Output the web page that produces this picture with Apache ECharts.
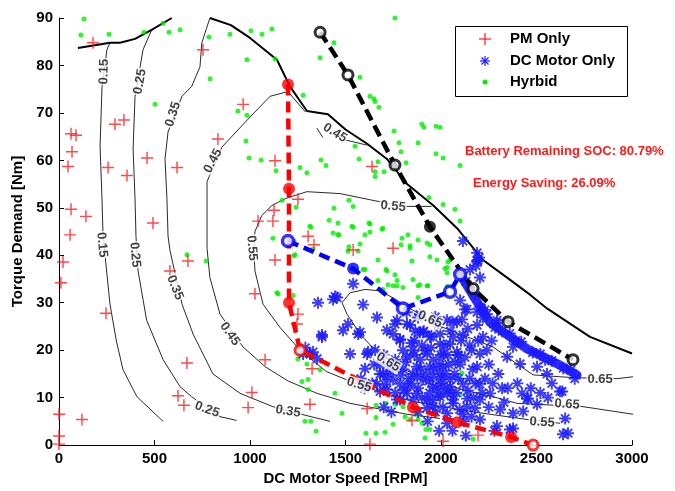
<!DOCTYPE html>
<html>
<head>
<meta charset="utf-8">
<script src="https://cdn.jsdelivr.net/npm/echarts@6/dist/echarts.min.js"></script>
<style>
  html, body { margin: 0; padding: 0; background: #fff; }
  #chart { width: 675px; height: 491px; }
</style>
</head>
<body>
<div id="chart"></div>
<script>
// ---- Axis ticks ----
const speedTicks = [0, 500, 1000, 1500, 2000, 2500, 3000];
const torqueTicks = [0, 10, 20, 30, 40, 50, 60, 70, 80, 90];

// ---- Maximum torque envelope (two pieces) ----
const maxTorqueLow = [[99,83.7],[267,84.8],[319,84.8],[398,85.6],[485,87.5],[590,90]];
const maxTorqueHigh = [[790,90],[900,88.5],[1000,85.8],[1141,81.2],[1209,75.6],[1298,70.4],[1408,69.7],
  [1500,66.5],[1613,63.5],[1717,60.3],[1822,55],[1960,50.5],[2084,45.7],[2220,39],[2346,35.3],
  [2466,31.7],[2555,28.8],[2780,22.8],[3000,19.3]];

// ---- Efficiency contours ----
const eff015 = [[267,84.8],[251,83.3],[225,75.4],[215,63],[225,52],[230,45],[246,38],[267,29.7],[300,22],[335,15.9],[408,10.2],[545,5]];
const eff025 = [[485,87.5],[440,83.3],[398,73.5],[388,62.4],[398,52],[403,44],[414,36.7],[459,26.3],[545,18],[634,12.3],[694,10.2],[843,6],[930,5.2]];
const eff035 = [[790,90],[748,84.8],[738,79.7],[695,75.6],[644,73.5],[571,66],[555,60.3],[565,52],[571,44],[581,41],[644,29.7],[702,23.4],[806,15],[948,10.9],[1120,8.1],[1288,6.3],[1419,5]];
const eff045 = [[1290,70.2],[1199,74.5],[1105,73.5],[990,68.7],[853,62.8],[775,55.5],[775,41.5],[790,35.3],[843,27.6],[963,20.7],[1080,16.5],[1200,13.5],[1351,10.9],[1524,8.8],[1822,6.5],[1995,5.6]];
const eff045Piece = [[1350,66.8],[1382,64.8]];
const eff045Tail = [[1500,64.3],[1613,63.2]];
const eff055 = [[1950,50.3],[1822,50.3],[1665,51.4],[1471,53],[1298,53.4],[1188,52],[1115,50.5],[1062,48.4],[1026,45],[1020,41],[1026,36.7],[1068,29.7],[1157,24.8],[1262,20],[1400,15.5],[1571,12.7],[1700,11],[1853,9.2],[2152,7.1],[2450,5.4],[2623,4.6]];
const eff065 = [[3005,14.4],[2922,14],[2700,14.2],[2623,14.4],[2482,14.8],[2398,17.1],[2272,20.7],[2100,23.4],[2011,24.8],[1850,28.5],[1750,31],[1680,32.5],[1602,32.8],[1524,32.1],[1482,30],[1508,27.6],[1576,23.4],[1639,20.7],[1801,16],[1958,13.4],[2152,11.3],[2272,10.2],[2398,8.8],[2744,8.1],[3005,6.5]];

// Contour labels [speed, torque, text] and their text angles
const contourLabels = [
  [236,78.7,'0.15'],[225,42.2,'0.15'],
  [424,76.6,'0.25'],[398,40.1,'0.25'],[775,7.5,'0.25'],
  [597,69.7,'0.35'],[607,33.2,'0.35'],[1199,7.1,'0.35'],
  [806,59.9,'0.45'],[895,23.4,'0.45'],[1445,65.8,'0.45'],
  [1749,50.3,'0.55'],[1010,41.5,'0.55'],[1571,12.7,'0.55'],[2529,4.8,'0.55'],
  [1723,17.5,'0.65'],[1942,26.5,'0.65'],[2660,8.6,'0.65'],[2833,13.8,'0.65']
];
const labelAngles = [88,-85, 80,-85,-20, 72,-68,-10, 62,-55,-32, -5,-85,-16,-4, -32,-24,-4,0];

// ---- Operating points ----
const pmOnly = [[178,84.8],[754,83.3],[964,71.8],[340,68.5],[293,67.6],[63,65.6],[89,65.3],[832,64.5],[68,61.8],[47,58.7],
  [461,60.5],[257,58.5],[618,58.5],[356,56.8],[1131,59.9],[63,49.7],[141,48.2],[492,46.8],[58,44.3],[1251,51.8],
  [1126,49.5],[1042,47.2],[1120,47.2],[1304,44],[1335,42.2],[1639,58.7],[1749,41.5],[1540,41.1],[1131,39],[1026,31.9],
  [1251,27.6],[1246,25.5],[1079,18],[21,38.6],[10,34.2],[0,6.5],[0,1.9],[0,0.2],[120,5.4],[246,27.8],
  [581,36.7],[675,38.8],[670,17.3],[623,10.4],[654,8.4],[1010,11.1],[990,7.9],[1325,16.1],[1314,8.6],[1613,7.7],
  [1848,5.2],[1628,0.2],[2011,0.8],[2194,2.1]];

const hybrid = [[131,89.8],[115,86.4],[262,86.6],[445,87],[545,88.9],[576,87],[634,87.5],[785,86],[895,86.6],[1005,87.3],
  [1063,86.6],[1115,87.7],[984,81.2],[1131,81.4],[791,77.2],[503,71.8],[937,70.4],[984,69.5],[1278,73.7],[979,64.1],
  [995,60.5],[1058,60.1],[1136,57.8],[1262,58.5],[1298,57.4],[1372,60.1],[1398,58.9],[1367,81.6],[1440,84.8],[1168,51.6],
  [1241,50.1],[1440,49.9],[1414,47.4],[1435,44.7],[1319,45.9],[1120,43.6],[1230,43],
  [1759,90],[1576,77.5],[1628,73.5],[1649,73],[1655,72.4],[1675,71.2],[1900,67.6],[1911,67],[1974,67.2],[1995,67],
  [1754,66.2],[1780,63.7],[1880,63.7],[1550,63],[1791,61.8],[1974,61.4],[2011,60.5],[1571,60.3],[1670,59.7],[1817,59.5],
  [2100,58.9],[1655,57.6],[1702,57.6],[1655,56.6],[1937,52.2],[2011,50.7],[2073,49.7],[1885,50.1],[2100,47.2],[1518,51.6],
  [1540,50.3],[1540,45.9],[1628,46.6],[1696,45.7],[1461,44.3],[1602,44.3],[1796,43.6],[1827,44.3],[1880,43.2],[1576,42.4],
  [1838,42],[1942,42.2],[1230,39.9],[1330,41.3],[1314,46.1],[1461,46.8],[1466,44.3],[1534,46.1],[1518,41.8],[1513,40.9],
  [1566,40.9],[1623,46.8],[1691,45.5],[1628,44.9],[1838,41.5],[1670,39],[1848,38.8],[1712,37],[1759,35.9],[1853,34.9],
  [2021,37.2],[2032,36.3],[1979,39],[1723,33.8],[1770,33.6],[1890,33.8],[1602,37],[1696,32.8],[1880,31.1],[1225,31.5],
  [1147,31.9],[1791,42.2],[1942,39.7],[2037,38.6],[1717,36.7],[1770,34.7],[1749,33.6],[1801,33.2],[1880,33.6],[1932,33.6],
  [1670,34.7],[1592,37],[670,40.1],[770,38.8],[1236,40.1],[1141,32.1],[1251,18.2],[1298,17.1],[1367,15.9],[1272,13.4],
  [1304,13.8],[1304,11.7],[1445,10.9],[1288,5],[1319,5],[1346,2.9],[1482,6.7],[1607,2.5],[1660,8.4],[1712,8.8],
  [1759,8.6],[1801,8.1],[1812,6],[1749,4.4],[1707,2.7],[1660,2.5],[1901,4.6],[1916,1.5],[1942,3.3],[1660,5.8],
  [1838,5.4],[1869,6.5],[1880,5.4],[1921,3.3],[2110,15.2],[2105,13.8],[2100,10.6],[1974,6.5],[2168,1.3],[1927,42.6],
  [2047,39],[2032,37.4],[1927,33.6],[2032,33.4]];

const dcMotorOnly = [[1356,30],[1445,31.3],[1540,34],[1592,29.6],[1487,24.2],[1377,22.8],[1576,23.8],[1513,25.5],[1655,20],[1278,19.2],
  [1770,26.3],[1749,23.4],[1822,25.5],[1906,23.8],[1985,25.5],[2084,25.9],[2115,23.2],[2011,19.2],[2100,30.5],[2189,38.8],
  [2204,35.3],[1456,31.1],[1665,26.9],[1759,25.5],[1838,25.3],[1890,23.8],[1785,22.3],[1942,22.8],[1995,23.4],[2189,25.3],
  [2110,26.5],[2126,28.6],[2220,22.8],[2152,37],[2115,43],[2189,40.5],[2293,26.3],[2241,27.6],[2194,39],[2136,28.6],
  [2189,28],[2220,26.9],[2283,24.8],[2377,20.7],[2346,18.6],[2414,17.1],[2503,16.5],[2555,15],[2424,10.9],[2450,9.8],
  [2503,8.6],[2634,11.3],[2650,5.6],[2665,2.5],[2377,3.5],[2047,21.3],[2089,19],[2204,19.2],[2189,16.5],[2204,12.9],
  [2115,12.9],[2047,13.8],[1995,15],[1942,16.5],[1890,18],[1801,20],[1785,22.1],[1717,24.2],[1880,26.9],[2032,26.3],
  [1853,15],[1906,13.8],[1958,12.3],[2032,10.9],[2063,9.6],[2136,8.1],[2204,9.6],[2257,10.9],[2309,7.5],[2377,6.7],
  [1822,12.3],[1785,12.9],[1749,13.8],[1717,14.4],[1681,15],[1770,9.6],[1853,9.6],[1958,8.1],[2032,6.7],[2115,6.5],
  [2204,5.4],[2293,4],[2032,4.6],[1330,19.6],[1566,23.4],[1618,19.6],[1602,16.1],[1681,16.9],[1707,12.7],[1740,15.5],
  [1822,18.6],[1853,20],[1927,19.2],[1995,21.3],[2063,22.8],[2084,19.6],[1874,16.5],[1958,14.4],[2011,16.5],[2047,12.3],
  [1874,10.9],[1927,9.6],[1995,10.2],[2063,8.8],[2136,9.8],[1785,9.6],[1822,10.9],[1681,11.3],[1524,19.2],[1314,19.2],
  [1351,18.2],[1377,23.2],[1665,12.9],[1696,15],[1717,11.7],[1613,19.2],[2639,2.3],[2623,11.3],[2456,9.8],[2430,7.1],
  [2361,3.3],[2183,37.8],[2199,39.5],[1860,22],[1900,21],[1920,15],[1960,18],[1980,12],[2000,19],[2040,17],
  [2070,15],[2100,17],[2150,14],[2160,20],[2170,10],[2230,14],[2250,17],[2270,13],[2300,15],[2320,12],
  [1880,12],[1900,10],[1940,11],[1970,7],[2010,8],[2080,11],[2120,5],[2160,6],[2250,8],[2000,13],
  [1830,14],[1860,19],[1910,24],[1970,27],[2050,24],[2150,21],[1800,16],[1760,18],[1700,19],[1650,17],
  [1640,13],[1600,12],[1580,14],[1700,8],[1740,7],[1880,7],[1930,5],[1990,3],[2060,3],[2130,2],
  [2280,3],[2400,13],[2470,12],[2520,11],[2580,13],[2560,10],[2330,9],[2350,12],[1290,20.5],[1435,30.7],
  [2130,34.5],[2180,31.5],[2205,29],[2230,28.5],[2290,25.8],[2320,24],[2360,23.5],[2390,22],[2420,21.8],[2480,19.5],
  [2520,19.2],[2545,18],[2580,17.8],[2640,16.2],[2680,15.8],[2700,14],
  [1815,17.5],[1845,13],[1865,24],[1895,16],[1915,20],[1935,13.5],[1950,23],[1965,16],[1985,10.5],[2005,14],
  [2020,21],[2035,19],[2055,11],[2075,17.5],[2090,14],[2105,22],[2125,18.5],[2140,11.5],[2165,16],[2180,13],
  [2195,22],[2215,11],[2240,20],[2265,22],[1875,14.5],[1925,7.8],[1948,20.5],[1990,17],[2018,11.8],[2098,7.5],
  [2178,7.8],[1790,14.8],[1805,11.5],[1760,11],[1730,16.5],[1845,21.5],[1955,9.5],[2025,15],[2060,26],[2140,24.5],
  [1890,27.5],[1820,28]];

// ---- Operating strategy paths ----
const pmPath = [[1199,76],[1204,54],[1204,30],[1262,20],[1853,8],[2084,4.8],[2367,1.7],[2482,0]];
const pmPathFilled = [[1199,76],[1204,54],[1204,30],[1853,8],[2084,4.8],[2367,1.7]];
const pmPathOpen = [[1262,20],[2482,0]];

const dcPath = [[1199,43],[1540,37.2],[1801,28.8],[2047,32.3],[2100,36]];
const dcPathFilled = [[1540,37.2]];
const dcPathOpen = [[1199,43],[1801,28.8],[2047,32.3],[2100,36]];
const dcBand = [[2100,36],[2168,31.5],[2257,25.8],[2450,20.3],[2620,16.9],[2712,14.8]];

const hybridPath = [[1367,87],[1513,78],[1759,59],[1942,46],[2168,33],[2351,26],[2691,18]];
const hybridPathFilled = [[1942,46]];
const hybridPathOpen = [[1367,87],[1513,78],[1759,59],[2168,33],[2351,26],[2691,18]];

const socText = 'Battery Remaining SOC: 80.79%';
const savingText = 'Energy Saving: 26.09%';

// ---- Marker shapes ----
const plusPath = 'path://M4.4,0H5.6V10H4.4Z M0,4.4H10V5.6H0Z';
const starPath = 'path://M4.2,0H5.8V10H4.2Z M0,4.2H10V5.8H0Z M2.07,0.93L9.07,7.93L7.93,9.07L0.93,2.07Z M7.93,0.93L9.07,2.07L2.07,9.07L0.93,7.93Z';

const FONT = 'Arial, "Liberation Sans", Helvetica, sans-serif';

function contourLine(data) {
  return { type: 'line', data: data, showSymbol: false, symbol: 'none', silent: true,
    lineStyle: { color: '#2a2a2a', width: 1 }, z: 1, animation: false };
}

const labelData = contourLabels.map(function (d, i) {
  return { value: [d[0], d[1]], name: d[2], label: { rotate: labelAngles[i] } };
});

const series = [
  contourLine(eff015), contourLine(eff025), contourLine(eff035), contourLine(eff045),
  contourLine(eff045Piece), contourLine(eff045Tail), contourLine(eff055), contourLine(eff065),
  { type: 'line', data: maxTorqueLow, symbol: 'none', silent: true, z: 2,
    lineStyle: { color: '#000', width: 2 }, animation: false },
  { type: 'line', data: maxTorqueHigh, symbol: 'none', silent: true, z: 2,
    lineStyle: { color: '#000', width: 2 }, animation: false },
  { name: 'Hyrbid', type: 'scatter', data: hybrid, symbol: 'circle', symbolSize: 5, z: 4,
    itemStyle: { color: '#00ee00' }, animation: false },
  { name: 'PM Only', type: 'scatter', data: pmOnly, symbol: plusPath, symbolSize: 12, z: 5,
    itemStyle: { color: '#ff1a1a' }, animation: false },
  { name: 'DC Motor Only', type: 'scatter', data: dcMotorOnly, symbol: starPath, symbolSize: 12, z: 5,
    itemStyle: { color: '#1a1aff', opacity: 0.85 }, animation: false },
  { type: 'line', data: dcBand, symbol: 'none', z: 5, silent: true,
    lineStyle: { color: '#1414ff', width: 9, opacity: 0.9, cap: 'round', join: 'round' }, animation: false },
  // strategy paths
  { type: 'line', data: pmPath, symbol: 'none', z: 6, silent: true,
    lineStyle: { color: '#ff0000', width: 4.5, type: [11, 6] }, animation: false },
  { type: 'line', data: dcPath, symbol: 'none', z: 6, silent: true,
    lineStyle: { color: '#0000ff', width: 4.5, type: [11, 6] }, animation: false },
  { type: 'line', data: hybridPath, symbol: 'none', z: 6, silent: true,
    lineStyle: { color: '#000000', width: 4.5, type: [12, 6] }, animation: false },
  { type: 'scatter', data: pmPathFilled, symbol: 'circle', symbolSize: 12, z: 7, silent: true,
    itemStyle: { color: '#ff0000' }, animation: false },
  { type: 'scatter', data: pmPathOpen, symbol: 'circle', symbolSize: 10, z: 7, silent: true,
    itemStyle: { color: '#fff', borderColor: '#ff0000', borderWidth: 3 }, animation: false },
  { type: 'scatter', data: dcPathFilled, symbol: 'circle', symbolSize: 12, z: 7, silent: true,
    itemStyle: { color: '#0000ff' }, animation: false },
  { type: 'scatter', data: dcPathOpen, symbol: 'circle', symbolSize: 11, z: 7, silent: true,
    itemStyle: { color: '#fff', borderColor: '#0000ff', borderWidth: 3.5 }, animation: false },
  { type: 'scatter', data: hybridPathFilled, symbol: 'circle', symbolSize: 12, z: 7, silent: true,
    itemStyle: { color: '#000' }, animation: false },
  { type: 'scatter', data: hybridPathOpen, symbol: 'circle', symbolSize: 10, z: 7, silent: true,
    itemStyle: { color: '#fff', borderColor: '#000', borderWidth: 3 }, animation: false },
  // contour value labels sit on top, clearing a small gap around the text
  { type: 'scatter', data: labelData, symbolSize: 1, silent: true, z: 8, animation: false,
    itemStyle: { color: 'rgba(0,0,0,0)' },
    label: { show: true, position: 'inside', formatter: '{b}', color: '#111',
      fontFamily: FONT, fontSize: 13, fontWeight: 'bold',
      backgroundColor: '#fff', padding: [0, 1] } }
];

// Legend drawn as a framed box with marker glyphs
const legendX = 485, legendRows = [39, 61, 82];
function seg(x1, y1, x2, y2, color) {
  return { type: 'line', shape: { x1: x1, y1: y1, x2: x2, y2: y2 }, style: { stroke: color, lineWidth: 1.2 }, z: 101 };
}
function legendText(x, y, text, color, size) {
  return { type: 'text', x: x, y: y, z: 101,
    style: { text: text, fill: color, font: 'bold ' + size + 'px ' + FONT, textVerticalAlign: 'middle', verticalAlign: 'middle' } };
}
const legendGraphics = [
  { type: 'rect', shape: { x: 455.5, y: 26.5, width: 172, height: 70 },
    style: { fill: '#fff', stroke: '#000', lineWidth: 1 }, z: 100 },
  seg(legendX - 6, legendRows[0], legendX + 6, legendRows[0], '#ff1a1a'),
  seg(legendX, legendRows[0] - 6, legendX, legendRows[0] + 6, '#ff1a1a'),
  seg(legendX - 5, legendRows[1], legendX + 5, legendRows[1], '#1a1aff'),
  seg(legendX, legendRows[1] - 5, legendX, legendRows[1] + 5, '#1a1aff'),
  seg(legendX - 3.5, legendRows[1] - 3.5, legendX + 3.5, legendRows[1] + 3.5, '#1a1aff'),
  seg(legendX - 3.5, legendRows[1] + 3.5, legendX + 3.5, legendRows[1] - 3.5, '#1a1aff'),
  { type: 'circle', shape: { cx: legendX, cy: legendRows[2], r: 2.5 }, style: { fill: '#00ee00' }, z: 101 },
  legendText(510, legendRows[0], 'PM Only', '#000', 15),
  legendText(510, legendRows[1], 'DC Motor Only', '#000', 15),
  legendText(510, legendRows[2], 'Hyrbid', '#000', 15),
  legendText(465, 151, socText, '#ff1a1a', 13),
  legendText(473, 183, savingText, '#ff1a1a', 13)
];

const plainNumber = function (v) { return String(v); };

const chart = echarts.init(document.getElementById('chart'), null, { renderer: 'canvas' });
chart.setOption({
  backgroundColor: '#fff',
  animation: false,
  grid: { left: 59, right: 43, top: 18, bottom: 42, containLabel: false },
  xAxis: {
    type: 'value', min: speedTicks[0], max: speedTicks[speedTicks.length - 1], interval: 500,
    name: 'DC Motor Speed [RPM]', nameLocation: 'middle', nameGap: 24,
    nameTextStyle: { color: '#000', fontFamily: FONT, fontSize: 15, fontWeight: 'bold' },
    axisLine: { show: true, onZero: false, lineStyle: { color: '#000', width: 1 } },
    axisTick: { show: true, inside: true, length: 5, lineStyle: { color: '#000' } },
    axisLabel: { color: '#000', fontFamily: FONT, fontSize: 15, fontWeight: 'bold', margin: 6, formatter: plainNumber },
    splitLine: { show: false }
  },
  yAxis: {
    type: 'value', min: torqueTicks[0], max: torqueTicks[torqueTicks.length - 1], interval: 10,
    name: 'Torque Demand [Nm]', nameLocation: 'middle', nameGap: 24,
    nameTextStyle: { color: '#000', fontFamily: FONT, fontSize: 15, fontWeight: 'bold' },
    axisLine: { show: true, onZero: false, lineStyle: { color: '#000', width: 1 } },
    axisTick: { show: true, inside: true, length: 5, lineStyle: { color: '#000' } },
    axisLabel: { color: '#000', fontFamily: FONT, fontSize: 15, fontWeight: 'bold', margin: 6, formatter: plainNumber },
    splitLine: { show: false }
  },
  series: series,
  graphic: legendGraphics
});
</script>
</body>
</html>
